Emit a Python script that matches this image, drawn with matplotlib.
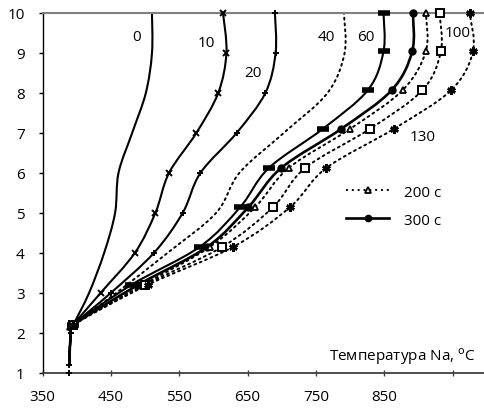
import numpy as np
import matplotlib
matplotlib.use('Agg')
import matplotlib.pyplot as plt
from matplotlib.path import Path
from matplotlib.patches import PathPatch
from matplotlib.lines import Line2D

plt.rcParams['font.family'] = ['Open Sans', 'DejaVu Sans']
plt.rcParams['font.size'] = 11

# depth levels (y) - first series read at whole levels, later ones slightly shifted
y_int = [1.2, 2.0, 2.2, 3, 4, 5, 6, 7, 8, 9, 10]
y_shift = [1.2, 2.0, 2.2, 3.2, 4.15, 5.14, 6.12, 7.1, 8.07, 9.04, 10]

x_0 = [389, 391, 395, 418, 440, 456, 461, 481, 501, 510, 510]
x_10 = [389, 391, 395, 435, 485, 515, 535, 575, 607, 619, 614]
x_20 = [389, 391, 395, 450, 513, 555, 581, 634, 676, 691, 690]
x_40 = [389, 391, 395, 458, 533, 604, 638, 703, 767, 792, 791]
x_60 = [389, 391, 395, 480, 580, 639, 681, 760, 826, 849, 849]
x_300 = [389, 391, 395, 490, 591, 651, 699, 787, 861, 891, 892]
x_200 = [389, 391, 395, 497, 595, 661, 710, 800, 877, 911, 911]
x_100 = [389, 391, 395, 500, 613, 687, 734, 829, 906, 933, 931]
x_130 = [389, 391, 395, 504, 629, 712, 765, 864, 948, 980, 975]

# lone bottom point of the "20" series
x_20_bottom = [389]
y_20_bottom = [1.0]

curve_labels = ['0', '10', '20', '40', '60', '100', '130']
legend_labels = ['200 c', '300 c']

xticks = [350, 450, 550, 650, 750, 850, 950]
xtick_labels = ['350', '450', '550', '650', '750', '850', '']
yticks = list(range(1, 11))


def smooth_path(xs, ys):
    # Excel-like smoothed line (Catmull-Rom as cubic Bezier)
    pts = np.column_stack([xs, ys]).astype(float)
    n = len(pts)
    verts = [pts[0]]
    codes = [Path.MOVETO]
    for i in range(n - 1):
        p0 = pts[max(i - 1, 0)]
        p1 = pts[i]
        p2 = pts[i + 1]
        p3 = pts[min(i + 2, n - 1)]
        verts += [p1 + (p2 - p0) / 6, p2 - (p3 - p1) / 6, p2]
        codes += [Path.CURVE4] * 3
    return Path(verts, codes)


fig = plt.figure(figsize=(4.84, 4.10), dpi=100)
ax = fig.add_axes([42.7 / 484, 1 - 373.7 / 410, (484 - 42.7) / 484, (373.7 - 14) / 410])

dotted = (0, (1, 2))
series = [
    (x_0, y_int, '-', None, {}),
    (x_10, y_int, '-', 'x', dict(ms=5, mew=1.4)),
    (x_20, y_int, '-', '+', dict(ms=5, mew=1.4)),
    (x_40, y_int, dotted, None, {}),
    (x_60, y_shift, '-', '_', dict(ms=9, mew=4)),
    (x_300, y_shift, '-', 'o', dict(ms=5)),
    (x_200, y_shift, dotted, '^', dict(ms=4.5, mfc='white', mew=1.3)),
    (x_100, y_shift, dotted, 's', dict(ms=5.5, mfc='white', mew=1.4)),
    (x_130, y_shift, dotted, (6, 2, 0), dict(ms=6, mew=1.8)),
]

for xs, ys, ls, mk, mkw in series:
    lw = 1.5 if ls == '-' else 1.4
    if xs is x_300:
        lw = 1.9
    ax.add_patch(PathPatch(smooth_path(xs, ys), facecolor='none', edgecolor='black',
                           lw=lw, linestyle=ls, capstyle='round'))
    if mk is not None:
        ax.plot(xs[2:], ys[2:], linestyle='none', marker=mk, color='black',
                clip_on=False, zorder=3, **mkw)

ax.plot(x_20_bottom, y_20_bottom, linestyle='none', marker='+', color='black',
        ms=5, mew=1.4, clip_on=False, zorder=3)
ax.plot(x_20[:2], y_int[:2], linestyle='none', marker='+', color='black',
        ms=5, mew=1.4, zorder=3)

# curve labels
label_pos = [(487, 9.42), (590, 9.25), (658, 8.52), (765, 9.42), (823, 9.42),
             (957, 9.5), (907, 6.92)]
for txt, (lx, ly) in zip(curve_labels, label_pos):
    ax.text(lx, ly, txt, ha='center', va='center', fontsize=11)

ax.text(984, 1.42, 'Температура Na, $^\\mathrm{o}$C', ha='right', va='center', fontsize=11)

handles = [
    Line2D([], [], color='black', lw=1.4, linestyle=dotted, marker='^', ms=4.5,
           mfc='white', mew=1.3),
    Line2D([], [], color='black', lw=1.9, marker='o', ms=4.5),
]
ax.legend(handles, legend_labels, frameon=False, loc='upper left',
          bbox_to_anchor=(293 / 441.3, 1 - 161 / 359.7), handlelength=2.8,
          handletextpad=1.0, labelspacing=0.85, borderpad=0.2, fontsize=11)

ax.set_xlim(350, 350 + 441.3 / 0.683)
ax.set_ylim(1, 10)
ax.set_xticks(xticks)
ax.set_xticklabels(xtick_labels)
ax.set_yticks(yticks)
ax.tick_params(axis='x', direction='inout', length=5, width=1, color='#404040', pad=9)
ax.tick_params(axis='y', direction='out', length=3, width=1, pad=10)

ax.spines['right'].set_visible(False)
ax.spines['top'].set_color('#808080')
ax.spines['top'].set_linewidth(1.5)
ax.spines['bottom'].set_color('#404040')
ax.spines['bottom'].set_linewidth(1.3)
ax.spines['left'].set_color('black')
ax.spines['left'].set_linewidth(1.0)

fig.savefig('out.png', dpi=100)
